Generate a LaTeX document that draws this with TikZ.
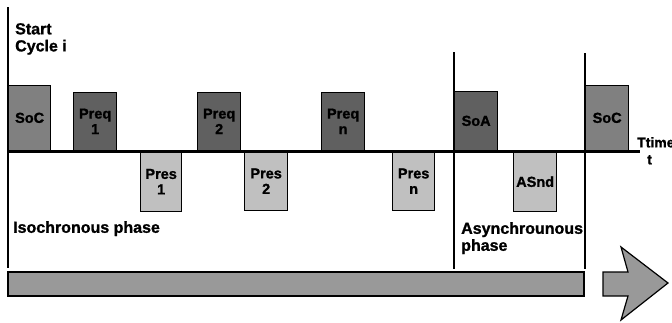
\documentclass[tikz,border=0pt]{standalone}
\usepackage{fontspec}
\setmainfont{Liberation Sans}[BoldFeatures={FakeBold=1.2}]
\definecolor{socgray}{HTML}{808080}
\definecolor{reqgray}{HTML}{606060}
\definecolor{resgray}{HTML}{C0C0C0}
\definecolor{bargray}{HTML}{999999}
\begin{document}
\begin{tikzpicture}[x=1pt,y=-1pt,
  box/.style={draw=black, line width=1.3pt, inner sep=0pt, align=center,
    font=\bfseries\fontsize{14.5}{15.5}\selectfont},
  upbox/.style={box, anchor=south west},
  downbox/.style={box, anchor=north west},
  lbl/.style={inner sep=0pt, align=left, font=\bfseries\fontsize{16}{17}\selectfont},
  vline/.style={line width=1.2pt},
  timeline/.style={line width=3pt}]
\useasboundingbox (0,0) rectangle (672,322);
% boxes above the time line
\node[upbox, fill=socgray, minimum width=42pt, minimum height=65pt] (soc1) at (8,151) {SoC};
\node[upbox, fill=reqgray, minimum width=43pt, minimum height=58pt] (preq1) at (73,151) {Preq\\1};
\node[upbox, fill=reqgray, minimum width=43pt, minimum height=58pt] (preq2) at (197,151) {Preq\\2};
\node[upbox, fill=reqgray, minimum width=43pt, minimum height=58pt] (preqn) at (321,151) {Preq\\n};
\node[upbox, fill=reqgray, minimum width=43pt, minimum height=59pt] (soa) at (454,151) {SoA};
\node[upbox, fill=socgray, minimum width=43pt, minimum height=65pt] (soc2) at (585,151) {SoC};
% boxes below the time line
\node[downbox, fill=resgray, minimum width=41pt, minimum height=60pt] (pres1) at (140,151) {Pres\\1};
\node[downbox, fill=resgray, minimum width=43pt, minimum height=59pt] (pres2) at (244,151) {Pres\\2};
\node[downbox, fill=resgray, minimum width=42pt, minimum height=59pt] (presn) at (392,151) {Pres\\n};
\node[downbox, fill=resgray, minimum width=43pt, minimum height=60pt] (asnd) at (513,151) {ASnd};
% vertical phase lines
\draw[vline] (8,7) -- (8,268);
\draw[vline] (454,52) -- (454,269);
\draw[vline] (585,53) -- (585,269);
% time line
\draw[timeline] (8,151) -- (640,151);
% texts
\node[lbl, anchor=north west] (start) at (15,23) {Start\\Cycle i};
\node[lbl, anchor=north west] (iso) at (13,221) {Isochronous phase};
\node[lbl, anchor=north west] (async) at (461,222) {Asynchrounous\\phase};
\node[lbl, anchor=north west, font=\bfseries\fontsize{14}{17}\selectfont] (ttime) at (637,137) {Ttime\\\hspace*{10pt}t};
% bottom bar and arrow
\draw[line width=1.2pt, fill=bargray] (8,272) rectangle (584,296);
\draw[line width=1.2pt, fill=bargray, line join=miter]
  (603,272) -- (628,272) -- (621,247) -- (668,283) -- (621,320) -- (628,296) -- (603,296) -- cycle;
\end{tikzpicture}
\end{document}
